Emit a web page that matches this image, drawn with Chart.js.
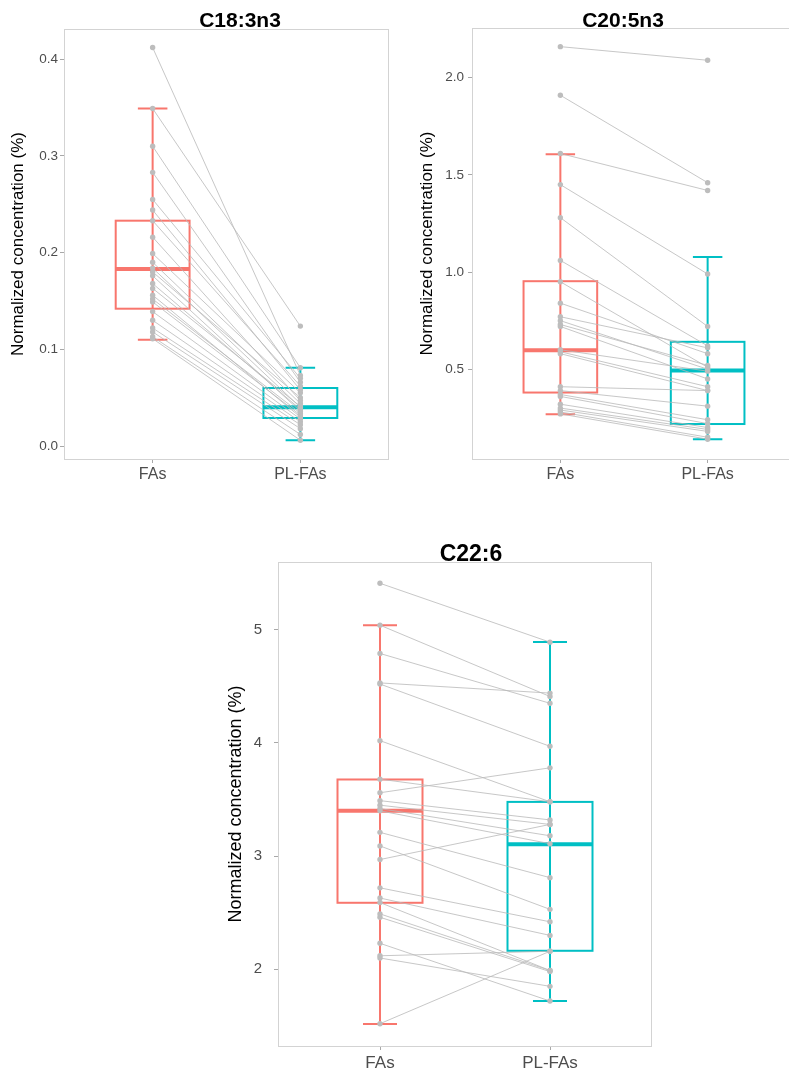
<!DOCTYPE html>
<html>
<head>
<meta charset="utf-8">
<script src="https://cdn.jsdelivr.net/npm/chart.js@4/dist/chart.umd.min.js"></script>
<style>
  html, body { margin: 0; padding: 0; background: #ffffff; }
  body { width: 789px; height: 1073px; position: relative; overflow: hidden; }
  canvas { position: absolute; }
</style>
</head>
<body>
<canvas id="c18" width="480" height="500" style="left:0px;top:0px"></canvas>
<canvas id="c20" width="420" height="500" style="left:410px;top:0px"></canvas>
<canvas id="c22" width="570" height="543" style="left:180px;top:530px"></canvas>
<script>
// Groups on the x axis
const groups = ['FAs', 'PL-FAs'];

// C18:3n3 — paired values per subject (FAs[i] pairs with PL-FAs[i])
const c18FAs = [0.412, 0.349, 0.310, 0.283, 0.255, 0.244, 0.233, 0.216, 0.199, 0.190, 0.184, 0.180,
                0.176, 0.168, 0.163, 0.156, 0.152, 0.149, 0.139, 0.130, 0.122, 0.118, 0.113, 0.111];
const c18PL  = [0.073, 0.124, 0.081, 0.066, 0.070, 0.058, 0.062, 0.047, 0.055, 0.044, 0.040, 0.050,
                0.036, 0.038, 0.041, 0.030, 0.034, 0.032, 0.028, 0.025, 0.022, 0.018, 0.012, 0.006];
// box stats: [lower whisker, Q1, median, Q3, upper whisker]
const c18BoxFAs = [0.110, 0.142, 0.183, 0.233, 0.349];
const c18BoxPL  = [0.006, 0.029, 0.040, 0.060, 0.081];
const c18Ticks = [0.0, 0.1, 0.2, 0.3, 0.4];

// C20:5n3
const c20FAs = [2.16, 1.91, 1.61, 1.45, 1.28, 1.06, 0.95, 0.84, 0.77, 0.75, 0.73, 0.72,
                0.60, 0.59, 0.58, 0.41, 0.39, 0.37, 0.36, 0.32, 0.30, 0.29, 0.28, 0.27];
const c20PL  = [2.09, 1.46, 1.42, 0.99, 0.72, 0.62, 0.51, 0.58, 0.61, 0.50, 0.52, 0.45,
                0.49, 0.41, 0.39, 0.39, 0.31, 0.24, 0.22, 0.20, 0.19, 0.18, 0.15, 0.14];
const c20BoxFAs = [0.268, 0.380, 0.598, 0.953, 1.606];
const c20BoxPL  = [0.140, 0.218, 0.493, 0.641, 1.078];
const c20Ticks = [0.5, 1.0, 1.5, 2.0];

// C22:6
const c22FAs = [5.41, 5.04, 4.79, 4.53, 4.52, 4.02, 3.68, 3.56, 3.49, 3.45, 3.42, 3.40,
                3.21, 3.09, 2.97, 2.72, 2.63, 2.59, 2.49, 2.46, 2.23, 2.12, 2.10, 1.52];
const c22PL  = [4.89, 4.41, 4.35, 4.44, 3.97, 3.48, 3.48, 3.78, 3.32, 3.28, 3.18, 3.11,
                2.81, 2.53, 3.28, 2.42, 2.30, 1.99, 1.99, 1.98, 1.72, 2.16, 1.85, 2.16];
const c22BoxFAs = [1.517, 2.588, 3.400, 3.677, 5.039];
const c22BoxPL  = [1.720, 2.164, 3.106, 3.479, 4.891];
const c22Ticks = [2, 3, 4, 5];

const boxColors = ['#F8766D', '#00BFC4'];
const FONT = "'Liberation Sans', Arial, Helvetica, sans-serif";

// Draws each group's box, whisker bar with caps and median through the scales
const boxPlugin = {
  id: 'pairedBoxes',
  beforeDatasetsDraw(chart, args, opts) {
    const {ctx} = chart;
    const xs = chart.scales.x, ys = chart.scales.y;
    opts.stats.forEach((s, i) => {
      const [lo, q1, med, q3, hi] = s;
      const cx = xs.getPixelForValue(i);
      const bl = xs.getPixelForValue(i - 0.25), br = xs.getPixelForValue(i + 0.25);
      const cl = xs.getPixelForValue(i - 0.1), cr = xs.getPixelForValue(i + 0.1);
      ctx.save();
      ctx.strokeStyle = opts.colors[i];
      ctx.lineCap = 'butt';
      // whisker bar and caps
      ctx.lineWidth = 2;
      ctx.beginPath();
      ctx.moveTo(cx, ys.getPixelForValue(lo));
      ctx.lineTo(cx, ys.getPixelForValue(hi));
      ctx.moveTo(cl, ys.getPixelForValue(lo));
      ctx.lineTo(cr, ys.getPixelForValue(lo));
      ctx.moveTo(cl, ys.getPixelForValue(hi));
      ctx.lineTo(cr, ys.getPixelForValue(hi));
      ctx.stroke();
      // box
      const yt = ys.getPixelForValue(q3), yb = ys.getPixelForValue(q1);
      ctx.strokeRect(bl, yt, br - bl, yb - yt);
      // median
      ctx.lineWidth = 4;
      ctx.beginPath();
      ctx.moveTo(bl, ys.getPixelForValue(med));
      ctx.lineTo(br, ys.getPixelForValue(med));
      ctx.stroke();
      ctx.restore();
    });
  }
};

// Light frame round the plotting area
const framePlugin = {
  id: 'panelFrame',
  beforeDraw(chart) {
    const {ctx, chartArea: a} = chart;
    ctx.save();
    ctx.fillStyle = '#ffffff';
    ctx.fillRect(a.left, a.top, a.right - a.left, a.bottom - a.top);
    ctx.restore();
  },
  afterDraw(chart) {
    const {ctx, chartArea: a} = chart;
    ctx.save();
    ctx.strokeStyle = '#D3D3D3';
    ctx.lineWidth = 1;
    ctx.strokeRect(Math.round(a.left) + 0.5, Math.round(a.top) + 0.5,
                   Math.round(a.right - a.left) - 1, Math.round(a.bottom - a.top));
    ctx.restore();
  }
};

// Panel heading
const headPlugin = {
  id: 'panelHead',
  afterDraw(chart, args, opts) {
    const {ctx} = chart;
    ctx.save();
    ctx.font = 'bold ' + opts.size + 'px ' + FONT;
    ctx.fillStyle = '#000000';
    ctx.textAlign = 'center';
    ctx.textBaseline = 'alphabetic';
    ctx.fillText(opts.text, opts.x, opts.y);
    ctx.restore();
  }
};

function makePanel(id, cfg) {
  const datasets = cfg.fas.map((v, i) => ({
    data: [{x: 0, y: v}, {x: 1, y: cfg.pl[i]}],
    borderColor: 'rgba(185,185,185,0.8)',
    borderWidth: 1,
    pointRadius: 2.7,
    pointBackgroundColor: '#BDBDBD',
    pointBorderWidth: 0,
    pointHoverRadius: 2.7,
    fill: false,
    tension: 0
  }));
  return new Chart(document.getElementById(id), {
    type: 'line',
    data: {datasets},
    plugins: [framePlugin, boxPlugin, headPlugin],
    options: {
      responsive: false,
      animation: false,
      devicePixelRatio: 1,
      events: [],
      layout: {padding: cfg.padding},
      plugins: {
        legend: {display: false},
        tooltip: {enabled: false},
        title: {display: false},
        pairedBoxes: {stats: cfg.boxes, colors: boxColors},
        panelHead: cfg.head
      },
      scales: {
        x: {
          type: 'linear',
          min: -0.6, max: 1.6,
          afterBuildTicks: s => { s.ticks = groups.map((g, i) => ({value: i})); },
          afterFit: s => { s.height = cfg.xHeight; },
          ticks: {
            callback: (v) => groups[v],
            color: '#4D4D4D',
            font: {family: FONT, size: cfg.xFont},
            padding: cfg.xPad,
            maxRotation: 0, autoSkip: false
          },
          grid: {display: true, drawOnChartArea: false, drawTicks: true, tickLength: 4,
                 tickColor: '#A8A8A8', lineWidth: 1},
          border: {display: false}
        },
        y: {
          type: 'linear',
          min: cfg.yMin, max: cfg.yMax,
          afterBuildTicks: s => { s.ticks = cfg.ticks.map(v => ({value: v})); },
          afterFit: s => { s.width = cfg.yWidth; },
          ticks: {
            callback: (v) => v.toFixed(cfg.decimals),
            color: '#4D4D4D',
            font: {family: FONT, size: cfg.yFont},
            padding: cfg.yPad,
            autoSkip: false
          },
          grid: {display: true, drawOnChartArea: false, drawTicks: true, tickLength: 4,
                 tickColor: '#A8A8A8', lineWidth: 1},
          border: {display: false},
          title: {
            display: true,
            text: 'Normalized concentration (%)',
            color: '#000000',
            font: {family: FONT, size: cfg.titleFont},
            padding: {top: cfg.titlePad, bottom: 0}
          }
        }
      }
    }
  });
}

makePanel('c18', {
  fas: c18FAs, pl: c18PL, boxes: [c18BoxFAs, c18BoxPL], ticks: c18Ticks, decimals: 1,
  yMin: -0.0134, yMax: 0.4312,
  padding: {top: 29, right: 91, bottom: 0, left: 0},
  yWidth: 64, xHeight: 41, xFont: 16, yFont: 13.5, xPad: 2, yPad: 2,
  titleFont: 17, titlePad: 8,
  head: {text: 'C18:3n3', x: 240, y: 27, size: 21}
});

makePanel('c20', {
  fas: c20FAs, pl: c20PL, boxes: [c20BoxFAs, c20BoxPL], ticks: c20Ticks, decimals: 1,
  yMin: 0.038, yMax: 2.256,
  padding: {top: 28, right: 34, bottom: 0, left: 0},
  yWidth: 62, xHeight: 41, xFont: 16, yFont: 13.5, xPad: 2, yPad: 4,
  titleFont: 17, titlePad: 7,
  head: {text: 'C20:5n3', x: 213, y: 27, size: 21}
});

makePanel('c22', {
  fas: c22FAs, pl: c22PL, boxes: [c22BoxFAs, c22BoxPL], ticks: c22Ticks, decimals: 0,
  yMin: 1.323, yMax: 5.598,
  padding: {top: 32, right: 98, bottom: 0, left: 0},
  yWidth: 98, xHeight: 27, xFont: 17, yFont: 15, xPad: 3, yPad: 12,
  titleFont: 18, titlePad: 45,
  head: {text: 'C22:6', x: 291, y: 31, size: 23}
});
</script>
</body>
</html>
